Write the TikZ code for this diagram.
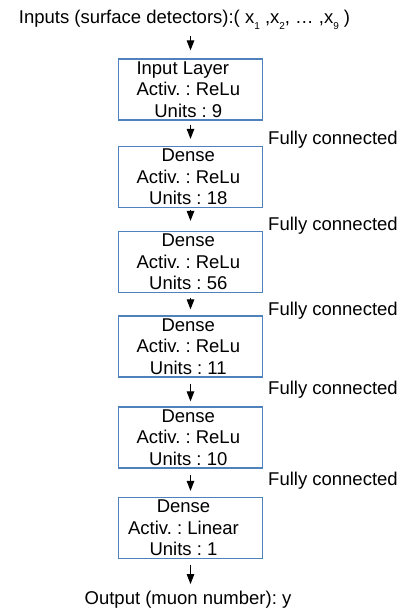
\documentclass[tikz,border=0pt]{standalone}
\usepackage{fontspec}
\setmainfont{Liberation Sans}
\usetikzlibrary{arrows.meta}
\definecolor{boxblue}{RGB}{79,129,189}
\newcommand\subidx[1]{\raisebox{-6bp}{\fontsize{10bp}{12bp}\selectfont #1}}
\frenchspacing
\begin{document}
\begin{tikzpicture}[x=1bp,y=-1bp,
  every node/.style={inner sep=0pt, font=\fontsize{18.5bp}{21.7bp}\selectfont\frenchspacing},
  layerbox/.style={draw=boxblue, line width=1.2bp, minimum width=144bp, minimum height=61bp},
  layertext/.style={align=center},
  fclabel/.style={anchor=base west},
  arr/.style={line width=1bp, -{Triangle[width=7.5bp,length=10bp]}}]
\useasboundingbox (0,0) rectangle (403,611);

% title and output
\node[anchor=base] (title) at (184.5,24) {Inputs (surface detectors):( x\subidx{1} ,x\subidx{2}, … ,x\subidx{9} )};
\node[anchor=base] (out) at (188,604.5) {Output (muon number): y};

% boxes
\node[layerbox] (b1) at (190.5,89.5) {};
\node[layerbox] (b2) at (190.5,177) {};
\node[layerbox] (b3) at (190.5,262) {};
\node[layerbox] (b4) at (190.5,346.5) {};
\node[layerbox] (b5) at (190.5,437.5) {};
\node[layerbox] (b6) at (190.5,528) {};

% box texts
\node[layertext] (t1) at ([xshift=-2.2bp]b1.center) {Input Layer\kern11bp\\Activ. : ReLu\\Units : 9};
\node[layertext] (t2) at ([xshift=-2.2bp]b2.center) {Dense\\Activ. : ReLu\\Units : 18};
\node[layertext] (t3) at ([xshift=-2.2bp]b3.center) {Dense\\Activ. : ReLu\\Units : 56};
\node[layertext] (t4) at ([xshift=-2.2bp]b4.center) {Dense\\Activ. : ReLu\\Units : 11};
\node[layertext] (t5) at ([xshift=-2.2bp]b5.center) {Dense\\Activ. : ReLu\\Units : 10};
\node[layertext] (t6) at ([xshift=-7bp]b6.center) {Dense\\Activ. : Linear\\Units : 1};

% fully connected labels
\node[fclabel] (f1) at (268,145) {Fully connected};
\node[fclabel] (f2) at (268,230) {Fully connected};
\node[fclabel] (f3) at (268,315) {Fully connected};
\node[fclabel] (f4) at (268,394) {Fully connected};
\node[fclabel] (f5) at (268,485) {Fully connected};

% arrows
\draw[arr] ([yshift=22bp]b1.north) -- ([yshift=8bp]b1.north);
\draw[arr] ([yshift=-4bp]b1.south) -- ([yshift=7bp]b2.north);
\draw[arr] ([yshift=-2bp]b2.south) -- ([yshift=10bp]b3.north);
\draw[arr] ([yshift=-5bp]b3.south) -- ([yshift=6bp]b4.north);
\draw[arr] ([yshift=-6bp]b4.south) -- ([yshift=5bp]b5.north);
\draw[arr] ([yshift=-6bp]b5.south) -- ([yshift=6bp]b6.north);
\draw[arr] ([yshift=-6bp]b6.south) -- ([yshift=-25bp]b6.south);
\end{tikzpicture}
\end{document}
